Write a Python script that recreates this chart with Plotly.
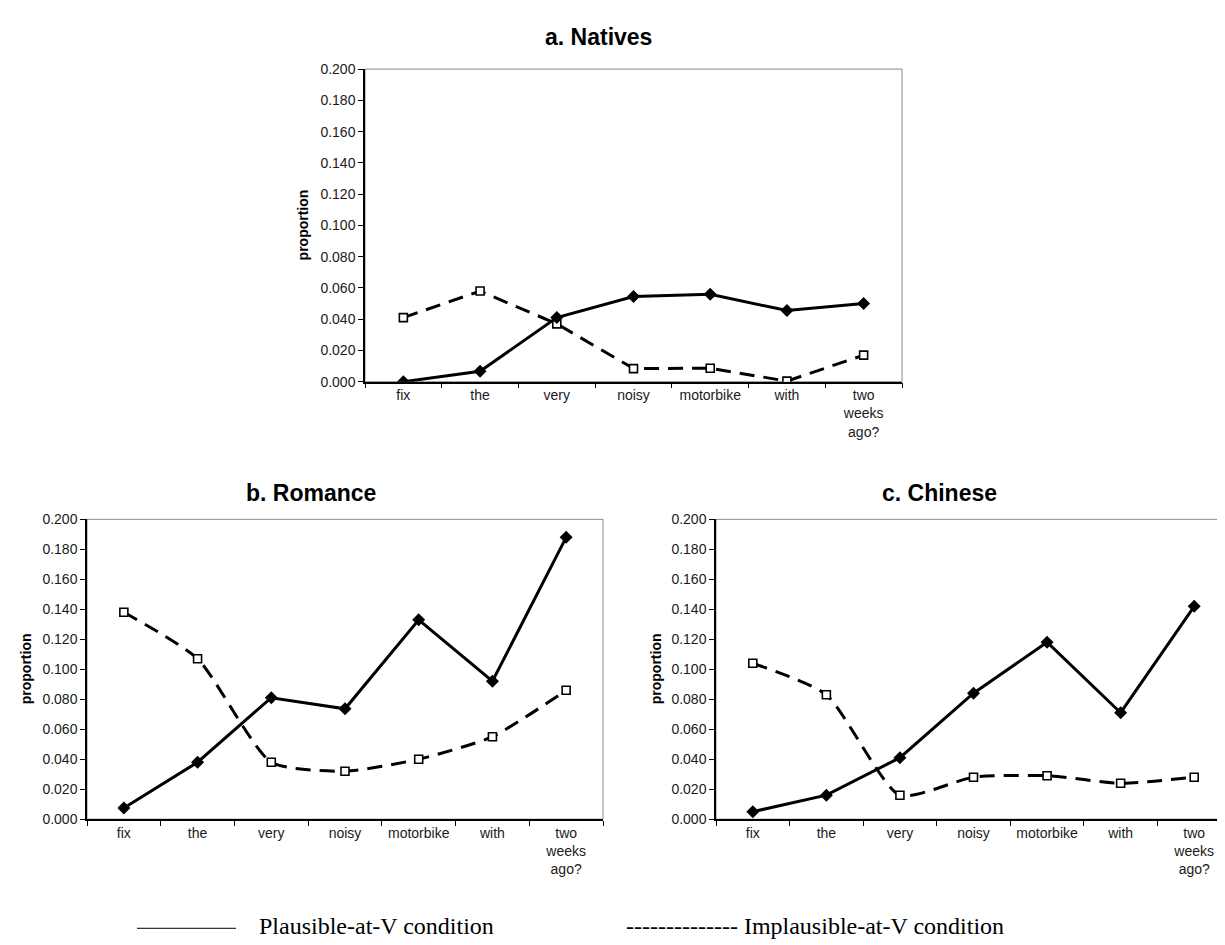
import plotly.graph_objects as go

# ---------------- data ----------------
categories = ["fix", "the", "very", "noisy", "motorbike", "with", "two<br>weeks<br>ago?"]

natives_plausible = [0.000, 0.0067, 0.041, 0.0545, 0.056, 0.0455, 0.050]
natives_implausible = [0.041, 0.058, 0.037, 0.0084, 0.0086, 0.0004, 0.017]

romance_plausible = [0.0074, 0.038, 0.081, 0.0736, 0.133, 0.092, 0.188]
romance_implausible = [0.138, 0.107, 0.038, 0.032, 0.040, 0.055, 0.086]

chinese_plausible = [0.005, 0.016, 0.041, 0.084, 0.118, 0.071, 0.142]
chinese_implausible = [0.104, 0.083, 0.016, 0.028, 0.029, 0.024, 0.028]

panel_titles = ["a. Natives", "b. Romance", "c. Chinese"]
y_title = "proportion"
legend_labels = ["Plausible-at-V condition", "Implausible-at-V condition"]
y_ticks = [i * 0.02 for i in range(11)]

# ---------------- layout geometry (pixels) ----------------
W, H = 1225, 945


def fx(x):
    return x / W


def fy(y):
    return 1 - y / H


panels = [
    dict(title=panel_titles[0], plaus=natives_plausible, impl=natives_implausible,
         x0=357, x1=894, y0=54, y1=372, tx=590, ty=21, px=295, shape="linear"),
    dict(title=panel_titles[1], plaus=romance_plausible, impl=romance_implausible,
         x0=79, x1=595, y0=512, y1=817, tx=303, ty=485, px=18, shape="spline"),
    dict(title=panel_titles[2], plaus=chinese_plausible, impl=chinese_implausible,
         x0=708, x1=1223, y0=512, y1=817, tx=931, ty=485, px=648, shape="spline"),
]

fig = go.Figure()
annotations = []
shapes = []
tick_font = dict(family="Liberation Sans, Arial, sans-serif", size=14, color="#1a1a1a")

for i, p in enumerate(panels):
    n = "" if i == 0 else str(i + 1)
    xa, ya = "x" + n, "y" + n
    fig.add_trace(go.Scatter(
        x=categories, y=p["impl"], xaxis=xa, yaxis=ya, mode="lines+markers",
        line=dict(color="black", width=3, dash="15px,9px", shape=p["shape"], smoothing=0.6),
        marker=dict(symbol="square", size=8, color="white", line=dict(color="black", width=1.6)),
        showlegend=False, name=legend_labels[1]))
    fig.add_trace(go.Scatter(
        x=categories, y=p["plaus"], xaxis=xa, yaxis=ya, mode="lines+markers",
        line=dict(color="black", width=3),
        marker=dict(symbol="diamond", size=10, color="black"),
        showlegend=False, name=legend_labels[0]))

    fig.update_layout(**{
        "xaxis" + n: dict(
            domain=[fx(p["x0"]), fx(p["x1"])], anchor=ya, type="category",
            range=[-0.5, 6.5], showline=True, linecolor="black", linewidth=1.5,
            ticks="outside", tickson="boundaries", ticklen=5, tickcolor="black",
            tickwidth=1, showgrid=False, zeroline=False, tickfont=tick_font,
            fixedrange=True),
        "yaxis" + n: dict(
            domain=[fy(p["y1"]), fy(p["y0"])], anchor=xa, range=[0, 0.2],
            tickvals=y_ticks, tickformat=".3f", showline=True, linecolor="black",
            linewidth=1.5, ticks="outside", ticklen=5, tickcolor="black",
            showgrid=False, zeroline=False, tickfont=tick_font, fixedrange=True),
    })
    shapes.append(dict(type="rect", xref=xa + " domain", yref=ya + " domain",
                       x0=0, x1=1, y0=0, y1=1, line=dict(color="#8a8a8a", width=1),
                       layer="below"))
    annotations.append(dict(text="<b>%s</b>" % p["title"], x=fx(p["tx"]), y=fy(p["ty"]),
                            xref="paper", yref="paper", showarrow=False,
                            xanchor="center", yanchor="middle",
                            font=dict(family="Liberation Sans, Arial, sans-serif", size=23, color="black")))
    annotations.append(dict(text="<b>%s</b>" % y_title, x=fx(p["px"]),
                            y=fy((p["y0"] + p["y1"]) / 2), xref="paper", yref="paper",
                            showarrow=False, textangle=-90, xanchor="center", yanchor="middle",
                            font=dict(family="Liberation Sans, Arial, sans-serif", size=14, color="black")))

# legend (drawn as in the original figure)
shapes.append(dict(type="line", xref="paper", yref="paper", x0=fx(129), x1=fx(228),
                   y0=fy(928), y1=fy(928), line=dict(color="black", width=1)))
legend_font = dict(family="Liberation Serif, Times New Roman, serif", size=24, color="black")
annotations.append(dict(text=legend_labels[0], x=fx(249), y=fy(926), xref="paper", yref="paper",
                        showarrow=False, xanchor="left", yanchor="middle", font=legend_font))
annotations.append(dict(text="-------------- " + legend_labels[1], x=fx(616), y=fy(926),
                        xref="paper", yref="paper", showarrow=False, xanchor="left",
                        yanchor="middle", font=legend_font))

fig.update_layout(width=W, height=H, margin=dict(l=0, r=0, t=0, b=0),
                  paper_bgcolor="white", plot_bgcolor="white",
                  annotations=annotations, shapes=shapes, showlegend=False)

fig.write_html("out.html")
